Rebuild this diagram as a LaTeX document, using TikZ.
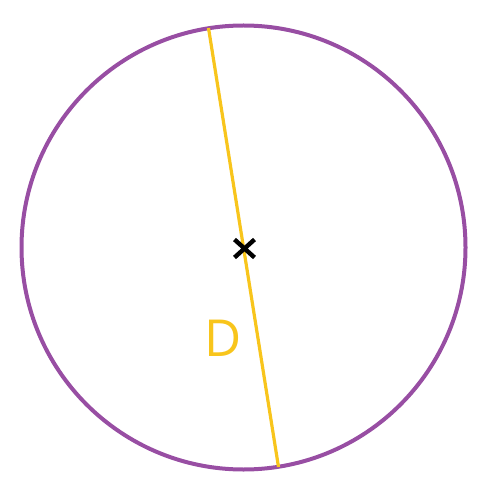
\documentclass[tikz,border=0pt]{standalone}
\usepackage{fontspec}
\setmainfont{Open Sans}
\usepackage[HTML]{xcolor}
\usetikzlibrary{calc}
\definecolor{circpurple}{HTML}{984EA3}
\definecolor{diamyellow}{HTML}{F8C51C}

\begin{document}
\begin{tikzpicture}[x=0.5pt, y=-0.5pt, rim/.style={circpurple, line width=2pt}, diam/.style={diamyellow, line width=1.6pt}, mark cross/.style={black, line width=2.2pt}]
\useasboundingbox (0,0) rectangle (502,497);

% Points
\coordinate (O) at (243.5,247.5);
\coordinate (P) at (208.5,28);
\coordinate (Q) at (278.5,467);
\coordinate (X) at (244.5,248.5);

% Circle
\draw[rim] (O) circle (222);

% Diameter
\draw[diam] (P) -- (Q);

% Centre mark
\draw[mark cross] ($(X)+(-10,-9)$) -- ($(X)+(10,9)$);
\draw[mark cross] ($(X)+(-10,9)$) -- ($(X)+(10,-9)$);

% Label
\node[diamyellow, font=\fontsize{25.5}{30}\selectfont] (D) at (223,338) {D};
\end{tikzpicture}
\end{document}
